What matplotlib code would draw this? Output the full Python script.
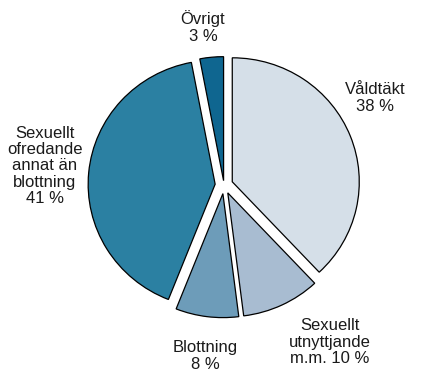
import matplotlib
matplotlib.use("Agg")
import matplotlib.pyplot as plt

plt.rcParams['font.family'] = ['Liberation Sans', 'DejaVu Sans']

labels = ["Våldtäkt\n38 %", "Sexuellt\nutnyttjande\nm.m. 10 %", "Blottning\n8 %",
          "Sexuellt\nofredande\nannat än\nblottning\n41 %", "Övrigt\n3 %"]
shares = [38, 10, 8, 41, 3]
colors = ['#d5dfe8', '#a8bcd1', '#6d9cb9', '#2b80a2', '#0f6690']
# label centres in pixels (x from left, y from top)
label_pos = [(375, 98), (330, 342), (205, 356), (45, 166), (203, 27)]

W, H = 431, 383
RX, RY = 127.0, 124.0   # the original pie is slightly wider than tall
CX, CY = 224, 185

def main():
    fig = plt.figure(figsize=(W / 100, H / 100), dpi=100)
    ax = fig.add_axes([0, 0, 1, 1])
    ax.set_axis_off()
    ax.pie(shares, colors=colors, startangle=90, counterclock=False,
           explode=[0.07, 0.07, 0.07, 0.07, 0.035], radius=1.0,
           wedgeprops=dict(edgecolor='black', linewidth=0.9))
    ax.set_aspect('auto')
    ax.set_xlim(-CX / RX, (W - CX) / RX)
    ax.set_ylim(-(H - CY) / RY, CY / RY)
    for lab, (px, py) in zip(labels, label_pos):
        fig.text(px / W, 1 - py / H, lab, ha='center', va='center',
                 fontsize=12, color='#1a1a1a', linespacing=1.12)
    fig.savefig('out.png', dpi=100)

if __name__ == "__main__":
    main()
